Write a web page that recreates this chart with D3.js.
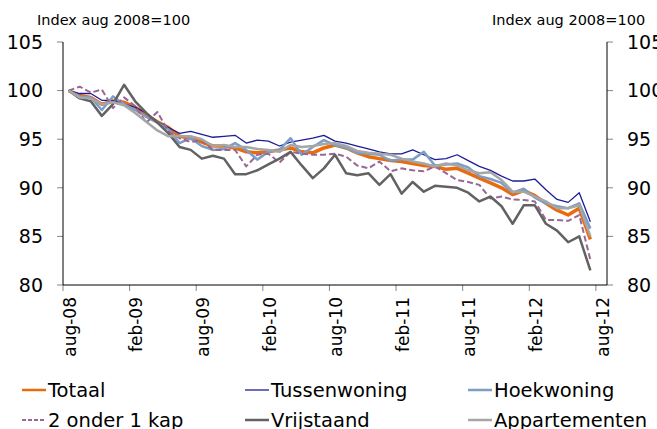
<!DOCTYPE html>
<html>
<head>
<meta charset="utf-8">
<script src="https://cdn.jsdelivr.net/npm/d3@7"></script>
<style>
  body { margin: 0; background: #fff; }
  svg { display: block; font-family: "DejaVu Sans", Verdana, sans-serif; }
  .tick-line { stroke: #868686; stroke-width: 1; }
</style>
</head>
<body>
<div id="chart"></div>
<script>
// DATA
// ------------------------------------------------------------------

var categories = ["aug-08","sep-08","okt-08","nov-08","dec-08",
  "jan-09","feb-09","mrt-09","apr-09","mei-09","jun-09","jul-09","aug-09","sep-09","okt-09","nov-09","dec-09",
  "jan-10","feb-10","mrt-10","apr-10","mei-10","jun-10","jul-10","aug-10","sep-10","okt-10","nov-10","dec-10",
  "jan-11","feb-11","mrt-11","apr-11","mei-11","jun-11","jul-11","aug-11","sep-11","okt-11","nov-11","dec-11",
  "jan-12","feb-12","mrt-12","apr-12","mei-12","jun-12","jul-12","aug-12"];

var yTicks = [80, 85, 90, 95, 100, 105];

var totaal = [100.0, 99.5, 99.3, 98.6, 98.9, 98.8, 98.3, 97.5, 96.8, 96.2, 95.3, 95.1,
  94.7, 94.3, 94.3, 94.1, 93.7, 93.6, 93.7, 93.9, 94.1, 93.7, 93.6, 94.1,
  94.4, 94.1, 93.6, 93.2, 93.0, 92.8, 92.7, 92.5, 92.3, 92.2, 91.9, 92.0,
  91.5, 91.0, 90.5, 90.0, 89.3, 89.7, 89.2, 88.4, 87.7, 87.2, 87.9, 84.7];

var tussenwoning = [100, 99.7, 99.7, 99.0, 99.0, 98.6, 98.3, 97.7, 96.8, 96.2, 95.6, 95.8,
  95.5, 95.2, 95.3, 95.4, 94.6, 94.9, 94.8, 94.3, 94.7, 94.9, 95.1, 95.4,
  94.8, 94.6, 94.3, 94.0, 93.7, 93.5, 93.5, 93.9, 93.4, 92.9, 93.0, 93.4,
  92.8, 92.2, 91.8, 91.2, 90.7, 90.7, 90.9, 89.8, 88.8, 88.5, 89.5, 86.5];

var hoekwoning = [100, 99.4, 99.3, 98.0, 99.4, 98.6, 98.0, 97.3, 96.7, 96.0, 94.6, 95.1,
  94.3, 93.9, 94.0, 94.6, 93.9, 92.9, 93.7, 93.9, 95.1, 93.4, 94.2, 94.9,
  94.4, 94.1, 93.6, 93.5, 93.4, 92.8, 92.9, 92.9, 93.7, 92.3, 92.4, 92.5,
  92.1, 91.2, 90.9, 90.5, 89.5, 89.9, 89.0, 88.4, 88.1, 87.9, 88.4, 85.8];

var tweeOnderEenKap = [100, 100.4, 99.8, 100.1, 98.2, 99.3, 98.4, 96.7, 97.8, 95.8, 95.1, 94.7,
  94.9, 93.9, 93.9, 93.9, 92.2, 93.4, 93.5, 92.6, 93.7, 93.5, 93.4, 93.4,
  93.5, 93.2, 92.3, 92.0, 92.7, 91.7, 92.0, 91.8, 91.7, 92.2, 91.5, 90.8,
  90.6, 90.3, 88.9, 89.1, 88.8, 88.75, 88.6, 86.7, 86.7, 86.6, 87.2, 82.6];

var vrijstaand = [100, 99.2, 98.9, 97.4, 98.6, 100.6, 98.9, 97.7, 96.7, 95.6, 94.2, 93.9,
  93.0, 93.3, 93.0, 91.4, 91.4, 91.8, 92.4, 93.0, 93.7, 92.3, 91.0, 92.0,
  93.4, 91.5, 91.3, 91.5, 90.3, 91.4, 89.4, 90.6, 89.6, 90.2, 90.1, 90.0,
  89.5, 88.6, 89.1, 88.1, 86.3, 88.2, 88.2, 86.3, 85.6, 84.4, 85.0, 81.5];

var appartementen = [100, 99.3, 99.2, 98.6, 98.8, 98.5, 97.7, 96.8, 95.9, 95.3, 95.3, 95.3,
  95.0, 94.3, 94.4, 94.2, 94.2, 94.0, 93.9, 93.7, 94.4, 94.2, 94.3, 94.5,
  94.6, 94.3, 93.8, 93.6, 93.5, 93.4, 93.0, 92.7, 92.5, 92.2, 92.5, 92.3,
  91.8, 91.5, 91.6, 90.8, 89.6, 89.6, 89.1, 88.6, 87.9, 87.9, 88.2, 85.0];

var series = [
  { name: "Totaal",        values: totaal,          color: "#ea6a0c", width: 3.5, dash: null },
  { name: "Tussenwoning",  values: tussenwoning,    color: "#1c1c98", width: 1.3, dash: null },
  { name: "Hoekwoning",    values: hoekwoning,      color: "#7b9dc6", width: 2.5, dash: null },
  { name: "2 onder 1 kap", values: tweeOnderEenKap, color: "#996795", width: 2,   dash: "6,3" },
  { name: "Vrijstaand",    values: vrijstaand,      color: "#626262", width: 2.5, dash: null },
  { name: "Appartementen", values: appartementen,   color: "#a6a6a6", width: 2.5, dash: null }
];

// CANVAS
// ------------------------------------------------------------------

var width = 657,
    height = 429;

var svg = d3.select("#chart")
  .append("svg")
  .attr("width", width)
  .attr("height", height);

var plotLeft = 63, plotRight = 607, plotTop = 42, plotBottom = 285;

var xScale = d3.scaleBand()
  .domain(categories)
  .range([plotLeft, plotRight])
  .padding(0);

var yScale = d3.scaleLinear()
  .domain([80, 105])
  .range([plotBottom, plotTop]);

function cx(i) { return xScale(categories[i]) + xScale.bandwidth() / 2; }

// AXES
// ------------------------------------------------------------------

// left and right value axes, ticks drawn outward
yTicks.forEach(function(t) {
  svg.append("line").attr("class", "tick-line")
    .attr("x1", plotLeft - 6).attr("x2", plotLeft)
    .attr("y1", yScale(t)).attr("y2", yScale(t));
  svg.append("line").attr("class", "tick-line")
    .attr("x1", plotRight).attr("x2", plotRight + 6)
    .attr("y1", yScale(t)).attr("y2", yScale(t));
  svg.append("text")
    .attr("x", 43).attr("y", yScale(t))
    .attr("dy", "0.36em")
    .attr("text-anchor", "end")
    .style("font-size", "19px")
    .text(t);
  svg.append("text")
    .attr("x", 627).attr("y", yScale(t))
    .attr("dy", "0.36em")
    .style("font-size", "19px")
    .text(t);
});

// category axis: ticks on every 6th category boundary, labels on the category
var labelled = categories.filter(function(c, i) { return i % 6 === 0; });

svg.selectAll(".xtick").data(labelled).enter()
  .append("line").attr("class", "tick-line")
  .attr("x1", function(d) { return xScale(d); })
  .attr("x2", function(d) { return xScale(d); })
  .attr("y1", plotBottom).attr("y2", plotBottom + 6);

svg.selectAll(".xlabel").data(labelled).enter()
  .append("text")
  .attr("transform", function(d) {
    return "translate(" + (xScale(d) + xScale.bandwidth() / 2 + 1) + "," + (plotBottom + 12) + ") rotate(-90)";
  })
  .attr("dy", "0.36em")
  .attr("text-anchor", "end")
  .style("font-size", "17px")
  .text(function(d) { return d; });

svg.append("line")
  .attr("x1", plotLeft).attr("x2", plotLeft)
  .attr("y1", plotTop).attr("y2", plotBottom)
  .attr("stroke", "#000");
svg.append("line")
  .attr("x1", plotRight).attr("x2", plotRight)
  .attr("y1", plotTop).attr("y2", plotBottom)
  .attr("stroke", "#000");
svg.append("line")
  .attr("x1", plotLeft).attr("x2", plotRight)
  .attr("y1", plotBottom).attr("y2", plotBottom)
  .attr("stroke", "#000");

svg.append("text")
  .attr("x", 37).attr("y", 25)
  .style("font-size", "14.5px")
  .text("Index aug 2008=100");
svg.append("text")
  .attr("x", 492).attr("y", 25)
  .style("font-size", "14.5px")
  .text("Index aug 2008=100");

// LINES
// ------------------------------------------------------------------

var line = d3.line()
  .x(function(d, i) { return cx(i); })
  .y(function(d) { return yScale(d); });

svg.selectAll(".series").data(series).enter()
  .append("path")
  .attr("d", function(s) { return line(s.values); })
  .attr("fill", "none")
  .attr("stroke", function(s) { return s.color; })
  .attr("stroke-width", function(s) { return s.width; })
  .attr("stroke-dasharray", function(s) { return s.dash; })
  .attr("stroke-linejoin", "round");

// LEGEND
// ------------------------------------------------------------------

var legendX = [22, 245, 468],
    legendY = [390, 420];

series.forEach(function(s, i) {
  var lx = legendX[i % 3], ly = legendY[Math.floor(i / 3)];
  svg.append("line")
    .attr("x1", lx).attr("x2", lx + 24)
    .attr("y1", ly).attr("y2", ly)
    .attr("stroke", s.color)
    .attr("stroke-width", Math.min(s.width, 2.5))
    .attr("stroke-dasharray", s.dash ? "4,2" : null);
  svg.append("text")
    .attr("x", lx + 26).attr("y", ly)
    .attr("dy", "0.36em")
    .style("font-size", "19.5px")
    .text(s.name);
});
</script>
</body>
</html>
